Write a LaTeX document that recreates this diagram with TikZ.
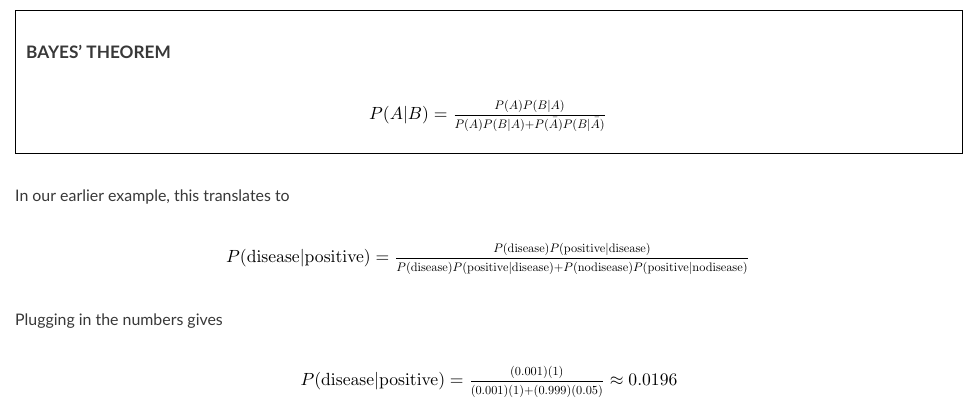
\documentclass[tikz,border=0pt]{standalone}
\usepackage[no-math]{fontspec}
\newfontfamily\prose{Lato}
% 数式フォント (全サイズ10ptデザインを拡大)
\DeclareFontFamily{OT1}{kcmr}{\hyphenchar\font45}
\DeclareFontShape{OT1}{kcmr}{m}{n}{<-> cmr10}{}
\DeclareFontFamily{OML}{kcmm}{\skewchar\font127}
\DeclareFontShape{OML}{kcmm}{m}{it}{<-> cmmi10}{}
\DeclareFontFamily{OMS}{kcmsy}{\skewchar\font48}
\DeclareFontShape{OMS}{kcmsy}{m}{n}{<-> cmsy10}{}
\DeclareFontFamily{OMX}{kcmex}{}
\DeclareFontShape{OMX}{kcmex}{m}{n}{<-> cmex10}{}
\DeclareSymbolFont{operators}{OT1}{kcmr}{m}{n}
\DeclareSymbolFont{letters}{OML}{kcmm}{m}{it}
\DeclareSymbolFont{symbols}{OMS}{kcmsy}{m}{n}
\DeclareSymbolFont{largesymbols}{OMX}{kcmex}{m}{n}
\DeclareMathAlphabet{\mathrm}{OT1}{kcmr}{m}{n}
% 分数 (分子・分母と線の間をあける)
\newcommand{\kfrac}[2]{\frac{#1\rule[-2.75pt]{0pt}{0pt}}{\rule{0pt}{6.75pt}#2}}
\definecolor{ink}{HTML}{383838}
\tikzset{
  prosetext/.style={anchor=base west,inner sep=0pt,text=ink,font=\prose\fontsize{15.9}{19}\selectfont},
  formula/.style={anchor=base,inner sep=0pt,text=black,scale=1.76,transform shape}
}
\begin{document}
\begin{tikzpicture}[x=1pt,y=-1pt]
   \useasboundingbox (0,0) rectangle (975,407);
   % 枠
   \draw[line width=1pt] (15.5,10.5) rectangle (962.5,153.5);
   \node (title) [prosetext,font=\prose\bfseries\fontsize{17.2}{20}\selectfont] at (26,58) {BAYES’ THEOREM};
   \node (bayes) [formula] at (488,119.5) {$P(A|B) = \kfrac{P(A)P(B|A)}{P(A)P(B|A)+P(\bar{A})P(B|\bar{A})}$};

   % 本文
   \node (earlier) [prosetext] at (15,201) {In our earlier example, this translates to};
   \node (translated) [formula] at (488,262.5) {$P(\mathrm{disease}|\mathrm{positive}) = \kfrac{P(\mathrm{disease})P(\mathrm{positive}|\mathrm{disease})}{P(\mathrm{disease})P(\mathrm{positive}|\mathrm{disease})+P(\mathrm{nodisease})P(\mathrm{positive}|\mathrm{nodisease})}$};

   \node (plugging) [prosetext] at (15,325) {Plugging in the numbers gives};
   \node (numbers) [formula] at (489,385.5) {$P(\mathrm{disease}|\mathrm{positive}) = \kfrac{(0.001)(1)}{(0.001)(1)+(0.999)(0.05)} \approx 0.0196$};
\end{tikzpicture}
\end{document}
